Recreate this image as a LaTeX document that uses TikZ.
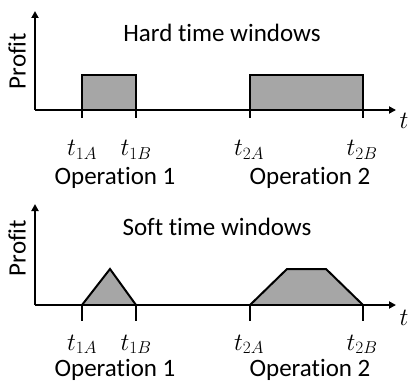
\documentclass[tikz,border=0pt]{standalone}
\usepackage{fontspec}
\setmainfont{Carlito}[Ligatures=NoCommon]
\usetikzlibrary{arrows.meta}
\begin{document}
\begin{tikzpicture}[x=1pt,y=-1pt,
  axis/.style={line width=2pt,-{Triangle[length=7pt,width=7pt]}},
  win/.style={line width=2pt,fill=gray!70,line join=miter},
  tick/.style={line width=2pt},
  lbl/.style={font=\fontsize{25}{28}\selectfont,inner sep=0pt},
  tl/.style={font=\fontsize{25}{28}\selectfont,inner sep=0pt,anchor=base},
  ml/.style={font=\fontsize{26}{28}\selectfont,inner sep=0pt,anchor=base}]
\useasboundingbox (0,0) rectangle (409,382);
% ---------- top panel ----------
\coordinate (o1) at (35,110);
\coordinate (y1) at (35,11);
\coordinate (x1) at (396,110);
\fill[gray!70] (82,110) rectangle (136,75);
\fill[gray!70] (250,110) rectangle (363,75);
\draw[tick,line join=miter] (82,118) -- (82,75) -- (136,75) -- (136,118);
\draw[tick,line join=miter] (250,118) -- (250,75) -- (363,75) -- (363,118);
\draw[axis] (o1) -- (y1);
\draw[axis] (o1) -- (x1);
\node[lbl,rotate=90] (p1) at (17,61) {Profit};
\node[lbl] (h1) at (222,33) {Hard time windows};
\node[lbl,font=\fontsize{27}{30}\selectfont] (tt1) at (404,121) {$t$};
\node[ml] (a1) at (82,156) {$t_{1A}$};
\node[ml] (b1) at (136,156) {$t_{1B}$};
\node[ml] (c1) at (249,156) {$t_{2A}$};
\node[ml] (d1) at (362,156) {$t_{2B}$};
\node[tl] (op11) at (115,184) {Operation 1};
\node[tl] (op21) at (310,184) {Operation 2};
% ---------- bottom panel ----------
\coordinate (o2) at (35,305);
\coordinate (y2) at (35,204);
\coordinate (x2) at (396,305);
\draw[win] (82,305) -- (110,269) -- (136,305);
\draw[win] (250,305) -- (287,269) -- (326,269) -- (363,305);
\draw[tick] (82,305) -- (82,321);
\draw[tick] (136,305) -- (136,321);
\draw[tick] (250,305) -- (250,321);
\draw[tick] (363,305) -- (363,321);
\draw[axis] (o2) -- (y2);
\draw[axis] (o2) -- (x2);
\node[lbl,rotate=90] (p2) at (17,248) {Profit};
\node[lbl] (s2) at (217,227) {Soft time windows};
\node[lbl,font=\fontsize{27}{30}\selectfont] (tt2) at (404,318) {$t$};
\node[ml] (a2) at (82,350) {$t_{1A}$};
\node[ml] (b2) at (136,350) {$t_{1B}$};
\node[ml] (c2) at (249,350) {$t_{2A}$};
\node[ml] (d2) at (362,350) {$t_{2B}$};
\node[tl] (op12) at (115,376) {Operation 1};
\node[tl] (op22) at (310,376) {Operation 2};
\end{tikzpicture}
\end{document}
